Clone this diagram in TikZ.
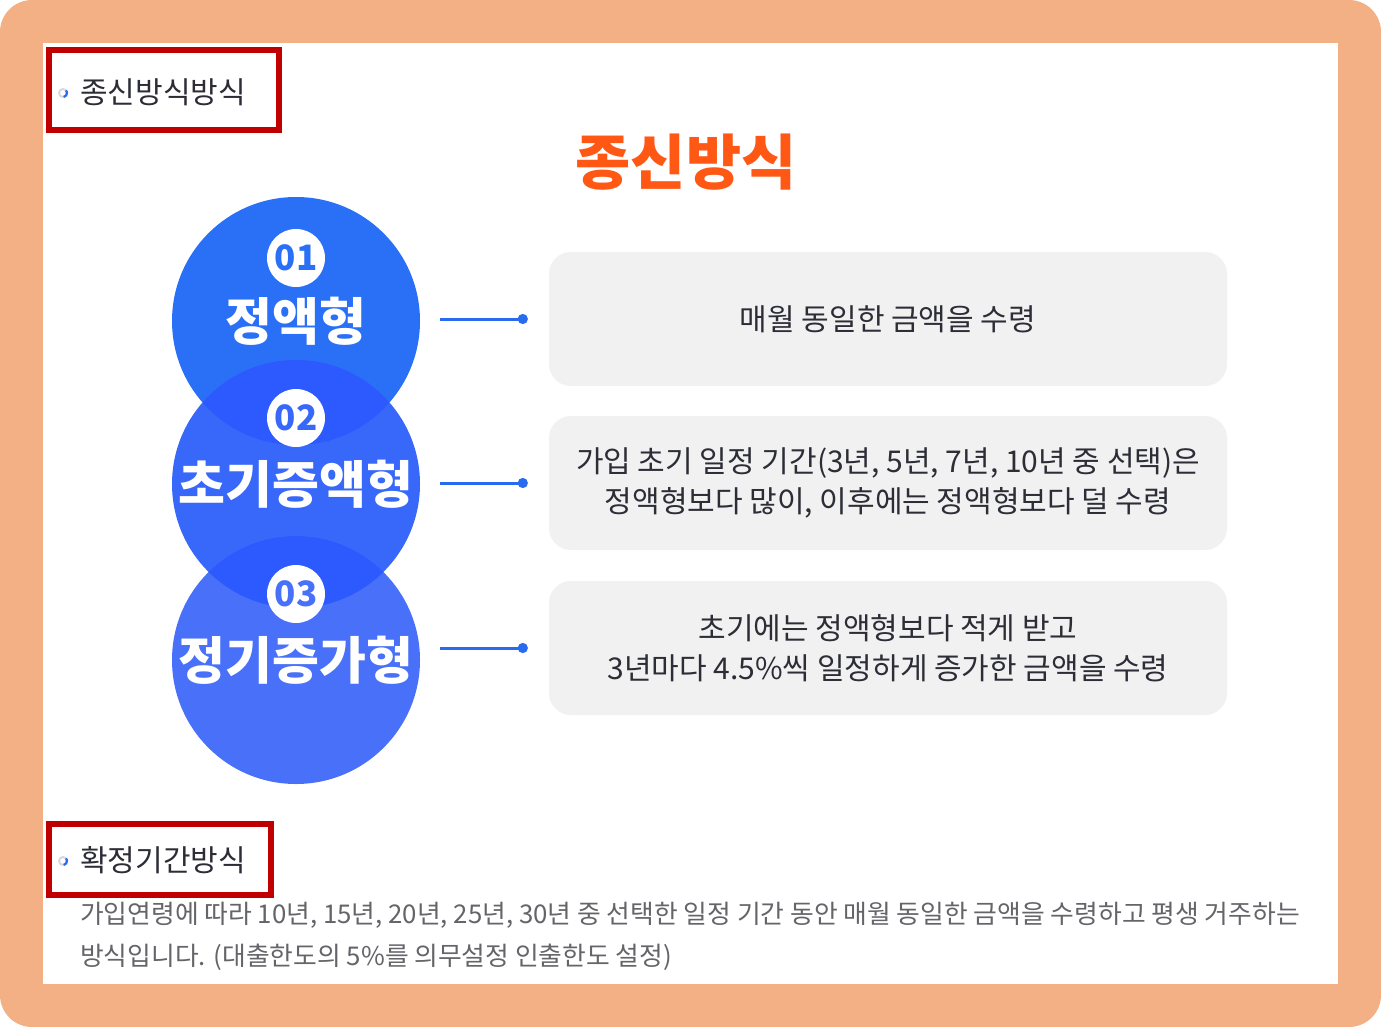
\documentclass[tikz,border=0pt]{standalone}
\usepackage{fontspec}
\newfontfamily\kr{Noto Sans CJK KR}
\newfontfamily\krbold{Noto Sans CJK KR Bold}
\newfontfamily\krblack{Noto Sans CJK KR Black}
\usetikzlibrary{arrows.meta}
\definecolor{frame}{RGB}{243,176,132}
\definecolor{mark}{RGB}{192,0,0}
\definecolor{ink}{RGB}{45,45,55}
\definecolor{para}{RGB}{100,100,105}
\definecolor{hot}{RGB}{255,88,20}
\definecolor{blueA}{RGB}{42,112,247}
\definecolor{blueB}{RGB}{56,104,250}
\definecolor{blueC}{RGB}{72,112,248}
\definecolor{lens}{RGB}{44,90,254}
\definecolor{card}{RGB}{241,241,241}
\definecolor{wire}{RGB}{40,106,240}

\begin{document}
\begin{tikzpicture}[x=1pt,y=-1pt,
  redbox/.style={draw=mark,line width=6pt},
  heading/.style={font=\kr\fontsize{30}{34}\selectfont,text=ink,anchor=west,inner sep=0pt},
  dotmark/.style={draw=black!15,line width=2pt},
  bubble/.style={circle,minimum size=248pt,inner sep=0pt},
  badge/.style={circle,fill=white,minimum size=58pt,inner sep=0pt,text=blueA,
    font=\krblack\fontsize{35}{35}\selectfont},
  kind/.style={text=white,font=\krblack\fontsize{51}{51}\selectfont,inner sep=0pt},
  cardbox/.style={fill=card,rounded corners=22pt,minimum width=678pt,minimum height=134pt,inner sep=0pt},
  cardtext/.style={font=\kr\fontsize{30}{40}\selectfont,text=ink,align=center},
  link/.style={draw=wire,line width=3pt,-{Circle[length=10pt]}},
  bodytext/.style={font=\kr\fontsize{25.8}{42}\selectfont,text=para,anchor=north west,align=left,inner sep=0pt},
]
\useasboundingbox (0,0) rectangle (1381,1027);
\fill[frame,rounded corners=32pt] (0,0) rectangle (1381,1027);
\fill[white] (43,43) rectangle (1338,984);

% headings
\draw[redbox] (49,50) rectangle (279,130);
\draw[dotmark] (63,93) circle (4);
\draw[wire,line width=2.2pt] (63,93) ++(80:4) arc (80:-40:4);
\node[heading] (h1) at (80,92) {종신방식방식};
\node[font=\krblack\fontsize{60}{60}\selectfont,text=hot] (title) at (686,162) {종신방식};

% circles
\node[bubble,fill=blueA] (c1) at (296,321) {};
\node[bubble,fill=blueB] (c2) at (296,484) {};
\node[bubble,fill=blueC] (c3) at (296,660) {};
\begin{scope}
  \clip (c1.center) circle (124);
  \fill[lens] (c2.center) circle (124);
\end{scope}
\begin{scope}
  \clip (c2.center) circle (124);
  \fill[lens] (c3.center) circle (124);
\end{scope}
\node[badge] (n1) at (296,258) {01};
\node[badge,text=blueB] (n2) at (296,418) {02};
\node[badge,text=blueC] (n3) at (296,594) {03};
\node[kind] (k1) at (296,321) {정액형};
\node[kind] (k2) at (296,484) {초기증액형};
\node[kind] (k3) at (296,660) {정기증가형};

% cards
\node[cardbox] (b1) at (888,319) {};
\node[cardbox] (b2) at (888,483) {};
\node[cardbox] (b3) at (888,648) {};
\node[cardtext] (t1) at (b1) {매월 동일한 금액을 수령};
\node[cardtext] (t2) at (b2) {가입 초기 일정 기간(3년, 5년, 7년, 10년 중 선택)은\\정액형보다 많이, 이후에는 정액형보다 덜 수령};
\node[cardtext] (t3) at (b3) {초기에는 정액형보다 적게 받고\\3년마다 4.5\%씩 일정하게 증가한 금액을 수령};

\draw[link] ([xshift=20pt]c1.east |- b1.west) -- ([xshift=-21pt]b1.west);
\draw[link] ([xshift=20pt]c2.east |- b2.west) -- ([xshift=-21pt]b2.west);
\draw[link] ([xshift=20pt]c3.east |- b3.west) -- ([xshift=-21pt]b3.west);

% fixed term
\draw[redbox] (49,824) rectangle (271,895);
\draw[dotmark] (63,861) circle (4);
\draw[wire,line width=2.2pt] (63,861) ++(80:4) arc (80:-40:4);
\node[heading] (h2) at (80,860) {확정기간방식};
\node[bodytext] (p1) at (80,902) {가입연령에 따라 10년, 15년, 20년, 25년, 30년 중 선택한 일정 기간 동안 매월 동일한 금액을 수령하고 평생 거주하는\\방식입니다. (대출한도의 5\%를 의무설정 인출한도 설정)};
\end{tikzpicture}
\end{document}
